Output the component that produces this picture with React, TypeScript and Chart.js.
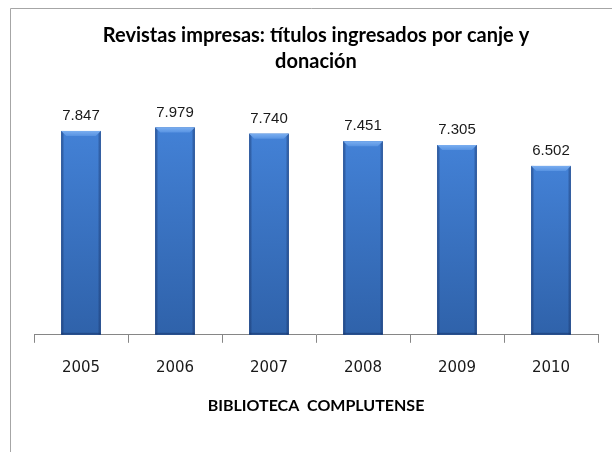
import React, { useEffect, useRef } from "react";
import { Chart, registerables } from "chart.js";

Chart.register(...registerables);

const categories = ["2005", "2006", "2007", "2008", "2009", "2010"];
const titulos = [7847, 7979, 7740, 7451, 7305, 6502];
const titleLines = ["Revistas impresas: títulos ingresados por canje y", "donación"];
const axisTitle = "BIBLIOTECA  COMPLUTENSE";

const fmt = (v: number) => {
  const s = String(Math.round(v));
  return s.replace(/\B(?=(\d{3})+(?!\d))/g, ".");
};

const framePlugin = {
  id: "frame",
  beforeDraw(chart: any) {
    const ctx = chart.ctx;
    ctx.save();
    ctx.fillStyle = "#ffffff";
    ctx.fillRect(0, 0, chart.width, chart.height);
    ctx.strokeStyle = "#a6a6a6";
    ctx.lineWidth = 1;
    ctx.beginPath();
    ctx.moveTo(10.5, chart.height);
    ctx.lineTo(10.5, 8.5);
    ctx.lineTo(chart.width, 8.5);
    ctx.stroke();
    ctx.restore();
  },
};

const shadePlugin = {
  id: "shade",
  afterDatasetsDraw(chart: any) {
    const ctx = chart.ctx;
    const meta = chart.getDatasetMeta(0);
    ctx.save();
    meta.data.forEach((bar: any, i: number) => {
      const { x, y, base, width } = bar.getProps(["x", "y", "base", "width"], true);
      const l = x - width / 2;
      const r = x + width / 2;
      const h = base - y;
      const g = ctx.createLinearGradient(0, y, 0, base);
      g.addColorStop(0, "#4381d6");
      g.addColorStop(1, "#2f62aa");
      ctx.fillStyle = g;
      ctx.fillRect(l, y, width, h);
      const bev = 5;
      const eg = ctx.createLinearGradient(l, 0, r, 0);
      eg.addColorStop(0, "rgba(20,45,95,0.6)");
      eg.addColorStop(0.08, "rgba(20,45,95,0.0)");
      eg.addColorStop(0.92, "rgba(20,45,95,0.0)");
      eg.addColorStop(1, "rgba(20,45,95,0.6)");
      ctx.fillStyle = eg;
      ctx.fillRect(l, y, width, h);
      ctx.beginPath();
      ctx.moveTo(l, y);
      ctx.lineTo(r, y);
      ctx.lineTo(r - bev, y + bev);
      ctx.lineTo(l + bev, y + bev);
      ctx.closePath();
      const tg = ctx.createLinearGradient(0, y, 0, y + bev);
      tg.addColorStop(0, "#7aaef0");
      tg.addColorStop(1, "#5893e2");
      ctx.fillStyle = tg;
      ctx.fill();
      ctx.fillStyle = "rgba(20,45,95,0.45)";
      ctx.fillRect(l, base - 2, width, 2);
      ctx.fillStyle = "#1a1a1a";
      ctx.font = "15px 'Liberation Sans', Arial, sans-serif";
      ctx.textAlign = "center";
      ctx.textBaseline = "alphabetic";
      ctx.fillText(fmt(titulos[i]), x, y - 11);
    });
    ctx.restore();
  },
};

export default function App() {
  const ref = useRef<HTMLCanvasElement | null>(null);
  useEffect(() => {
    if (!ref.current) return;
    const chart = new Chart(ref.current, {
      type: "bar",
      data: {
        labels: categories,
        datasets: [
          {
            label: "Títulos",
            data: titulos,
            backgroundColor: "#3a72c4",
            borderWidth: 0,
            categoryPercentage: 1,
            barPercentage: 0.42,
          },
        ],
      },
      options: {
        responsive: false,
        animation: false,
        devicePixelRatio: 1,
        layout: { padding: { left: 34, right: 14, top: 0, bottom: 37 } },
        plugins: {
          legend: { display: false },
          tooltip: { enabled: false },
          title: {
            display: true,
            text: titleLines,
            color: "#000000",
            font: { family: "Lato, 'Open Sans', sans-serif", size: 20, weight: "bold", lineHeight: 1.3 },
            padding: { top: 23, bottom: 26 },
          },
        },
        scales: {
          y: { display: false, min: 0, max: 9000 },
          x: {
            border: { display: true, color: "#868686", width: 1 },
            grid: {
              display: true,
              drawOnChartArea: false,
              drawTicks: true,
              tickLength: 8,
              color: "#868686",
              offset: true,
            },
            ticks: {
              color: "#1a1a1a",
              font: { family: "'DejaVu Sans', sans-serif", size: 15 },
              padding: 16,
            },
            title: {
              display: true,
              text: axisTitle,
              color: "#000000",
              font: { family: "Lato, sans-serif", size: 16, weight: "bold" },
              padding: { top: 3, bottom: 0 },
            },
          },
        },
      },
      plugins: [framePlugin, shadePlugin],
    });
    return () => chart.destroy();
  }, []);
  return (
    <canvas
      ref={ref}
      width={612}
      height={452}
      style={{ position: "fixed", left: 0, top: 0, width: 612, height: 452 }}
    />
  );
}
